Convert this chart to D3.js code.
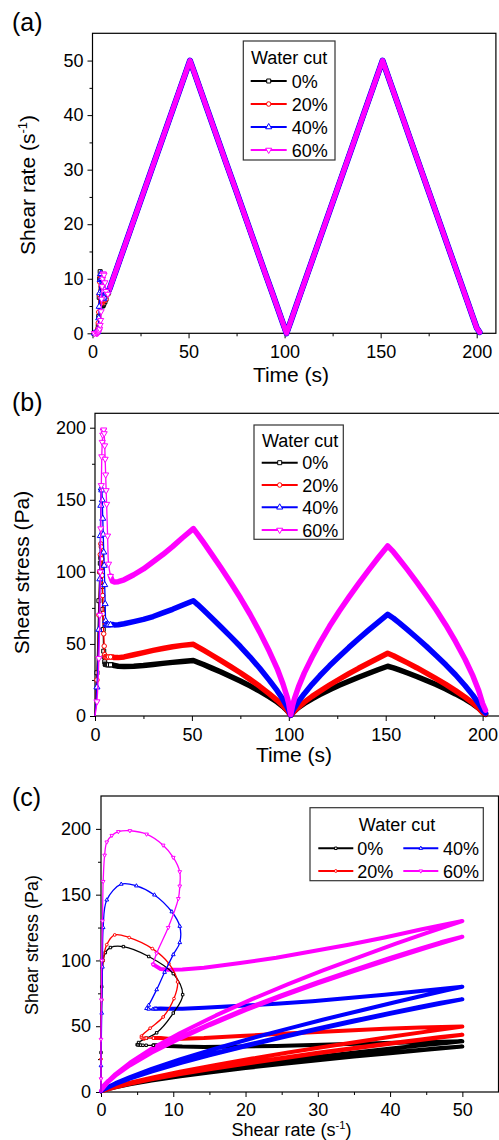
<!DOCTYPE html>
<html>
<head>
<meta charset="utf-8">
<script src="https://cdn.jsdelivr.net/npm/d3@7"></script>
<style>
	html, body { margin: 0; padding: 0; background: #fff; }
	svg { display: block; font-family: "Liberation Sans", Arial, sans-serif; }
</style>
</head>
<body>
<div id="chart"></div>
<script>
// water cut series
const seriesNames = ["0%", "20%", "40%", "60%"];
const seriesColors = ["#000000", "#ff0000", "#0000ff", "#ff00ff"];

// start-up part (s) on a shared time grid
const startTime = [0, 1, 2, 2.5, 2.75, 3, 3.25, 3.5, 3.75, 4, 4.25, 4.5, 4.75, 5, 5.25, 5.5, 5.75, 6, 6.5, 7, 8];
const startRate0 = [0, 0, 0.1, 0.3, 0.6, 1.3, 3.1, 6.6, 10.0, 11.3, 10.0, 7.7, 6.3, 5.2, 5.0, 5.1, 5.3, 5.5, 5.8, 6.25, 7.25];
const startRate20 = [0, 0, 0.1, 0.3, 0.8, 1.9, 3.9, 7.1, 9.4, 10.6, 10.1, 8.6, 6.8, 5.6, 5.6, 5.8, 6.0, 6.0, 6.1, 6.25, 7.25];
const startRate40 = [0, 0, 0.1, 0.2, 0.3, 0.8, 2.8, 4.9, 7.4, 9.8, 10.9, 10.9, 10.0, 8.8, 7.7, 6.6, 6.3, 6.6, 7.2, 7.4, 7.6];
const startRate60 = [0, 0, 0, 0.05, 0.1, 0.2, 0.3, 0.5, 0.8, 1.5, 2.4, 4.0, 6.3, 8.6, 10.0, 10.9, 10.9, 10.7, 9.3, 7.7, 7.2];
const startStress0 = [0, 30, 80, 100, 106, 109.8, 110.5, 103, 90, 74, 60, 45, 41, 37.6, 36, 35.8, 35.7, 35.6, 35.5, 35.5, 35.5];
const startStress20 = [0, 25, 70, 100, 112, 119.4, 117.4, 109, 97.6, 83.6, 71, 57, 48.5, 42.5, 41.2, 40.7, 40.6, 40.6, 40.8, 41, 41];
const startStress40 = [0, 20, 60, 95, 125, 146, 158, 156.7, 149.8, 137, 126, 113.6, 104.4, 91, 77.8, 66, 63.5, 63, 63, 63.2, 63.3];
const startStress60 = [0, 10, 40, 70, 100, 130, 160, 180, 190, 195, 197.9, 198.6, 196, 187.6, 178.3, 167.4, 156.5, 147, 125, 105.5, 97];

// triangular shear-rate cycles (s, 1/s)
const cycleTime = [9, 10, 12, 15, 20, 25, 30, 35, 40, 45, 50.75,
	53, 56, 60, 65, 70, 75, 80, 85, 90, 94, 97, 99, 100, 101,
	102, 103, 105, 108, 112, 116, 121, 126, 131, 136, 141, 146, 151,
	154, 157, 161, 166, 171, 176, 181, 186, 191, 195, 198, 200, 201.5];
const cycleRate = [8.25, 9.25, 11.25, 14.25, 19.25, 24.25, 29.25, 34.25, 39.25, 44.25, 50,
	47.8, 44.8, 40.8, 35.8, 30.8, 25.9, 20.9, 15.9, 10.9, 7.0, 4.0, 2.0, 1.0, 0,
	1, 2, 4, 7, 11, 15, 20, 25, 30, 35, 40, 45, 50,
	47, 44, 40, 35, 30, 25, 20, 15, 10, 6, 3, 1, 0.2];
const cycleStress0 = [35.5, 35, 34.5, 34.3, 34.5, 35, 35.8, 36.5, 37.2, 37.8, 38.5,
	37.3, 35.7, 33.4, 30.5, 27.4, 24.3, 20.9, 17.2, 13.2, 9.7, 6.6, 4.0, 2.5, 0.5,
	2.2, 3.6, 5.9, 8.7, 11.9, 14.8, 18.2, 21.3, 24.1, 26.9, 29.5, 32.1, 34.5,
	33.4, 32.0, 30.0, 27.4, 24.6, 21.8, 18.7, 15.3, 11.7, 8.3, 5.3, 2.7, 1.2];
const cycleStress20 = [41, 40.5, 40.5, 41, 42.5, 44, 45.5, 46.8, 48, 49, 49.7,
	48.0, 45.7, 42.5, 38.4, 34.2, 30.0, 25.4, 20.6, 15.4, 10.9, 7.1, 4.2, 2.4, 0.5,
	2.1, 3.6, 6.2, 9.6, 13.6, 17.2, 21.5, 25.5, 29.4, 33.1, 36.6, 40.1, 43.5,
	41.8, 39.7, 37.0, 33.5, 29.8, 25.9, 21.9, 17.6, 13.0, 8.9, 5.4, 2.5, 1.5];
const cycleStress40 = [63.5, 63.2, 63.3, 64, 65.5, 67, 69, 71.5, 74, 76.8, 80,
	77.3, 73.5, 68.4, 61.8, 55.1, 48.2, 40.9, 33.1, 24.7, 17.6, 11.4, 6.7, 3.9, 0.5,
	3.5, 5.9, 10.1, 15.5, 22.0, 27.9, 34.8, 41.3, 47.6, 53.6, 59.4, 65.0, 70.5,
	67.8, 64.6, 60.1, 54.3, 48.3, 42.0, 35.5, 28.6, 21.0, 14.3, 8.6, 4.0, 2.0];
const cycleStress60 = [93.5, 93, 93.2, 94.5, 98, 102, 107, 112, 117.5, 123.5, 130,
	126.0, 120.4, 112.7, 102.8, 92.6, 82.0, 70.6, 58.2, 44.7, 32.9, 22.2, 13.7, 8.4, 1,
	7.6, 12.4, 20.2, 29.9, 40.8, 50.7, 62.2, 72.7, 82.5, 91.9, 100.9, 109.6, 118,
	113.8, 108.8, 101.9, 92.9, 83.5, 73.7, 63.2, 51.7, 39.2, 27.8, 17.5, 8.6, 4];

// ticks
const timeTicks = [0, 50, 100, 150, 200];
const timeMinor = [25, 75, 125, 175];
const rateTicksA = [0, 10, 20, 30, 40, 50];
const rateMinorA = [5, 15, 25, 35, 45];
const stressTicks = [0, 50, 100, 150, 200];
const stressMinor = [25, 75, 125, 175];
const rateTicksC = [0, 10, 20, 30, 40, 50];
const rateMinorC = [5, 15, 25, 35, 45];

const startRates = [startRate0, startRate20, startRate40, startRate60];
const startStresses = [startStress0, startStress20, startStress40, startStress60];
const cycleStresses = [cycleStress0, cycleStress20, cycleStress40, cycleStress60];
const symbols = [d3.symbolSquare, d3.symbolCircle, d3.symbolTriangle, d3.symbolTriangle];
const symbolRot = [0, 0, 0, 180];

const series = seriesNames.map((name, i) => {
	const start = startTime.map((t, j) => ({ t, rate: startRates[i][j], stress: startStresses[i][j] }));
	const cycle = [start[start.length - 1]].concat(
		cycleTime.map((t, j) => ({ t, rate: cycleRate[j], stress: cycleStresses[i][j] }))
	);
	return { name, i, color: seriesColors[i], start, cycle };
});

const FONT = "'Liberation Sans', Arial, sans-serif";

const svg = d3
	.select("#chart")
	.append("svg")
	.attr("width", 499)
	.attr("height", 1140);

function drawAxes(x, y, o) {
	const y0 = y.range()[0];
	const x0 = x.range()[0];

	const gx = svg
		.append("g")
		.attr("transform", `translate(0,${y0})`)
		.call(d3.axisBottom(x).tickValues(o.xMajor).tickSize(5).tickSizeOuter(0).tickPadding(o.xPad));
	svg
		.append("g")
		.attr("transform", `translate(0,${y0})`)
		.call(d3.axisBottom(x).tickValues(o.xMinor).tickSize(3).tickSizeOuter(0).tickFormat(""));
	const gy = svg
		.append("g")
		.attr("transform", `translate(${x0},0)`)
		.call(d3.axisLeft(y).tickValues(o.yMajor).tickSize(5).tickSizeOuter(0).tickPadding(o.yPad));
	svg
		.append("g")
		.attr("transform", `translate(${x0},0)`)
		.call(d3.axisLeft(y).tickValues(o.yMinor).tickSize(3).tickSizeOuter(0).tickFormat(""));

	svg.selectAll(".domain").remove();
	[gx, gy].forEach(g => g.attr("font-size", o.font).attr("font-family", FONT));
	svg.selectAll(".tick line").attr("stroke", "#000");
	svg.selectAll(".tick text").attr("fill", "#000");

	// frame
	svg
		.append("rect")
		.attr("x", x0)
		.attr("y", y.range()[1])
		.attr("width", x.range()[1] - x0)
		.attr("height", y0 - y.range()[1])
		.attr("fill", "none")
		.attr("stroke", "#000")
		.attr("stroke-width", 1.2);
}

function drawData(x, y, xKey, yKey, o) {
	const g = svg.append("g");
	const thickLine = d3.line().x(d => x(d[xKey])).y(d => y(d[yKey]));
	const thinLine = d3
		.line()
		.x(d => x(d[xKey]))
		.y(d => y(d[yKey]))
		.curve(d3.curveCatmullRom.alpha(0.5));

	series.forEach(s => {
		g.append("path")
			.datum(s.cycle)
			.attr("d", thickLine)
			.attr("fill", "none")
			.attr("stroke", s.color)
			.attr("stroke-width", o.thick[s.i])
			.attr("stroke-linejoin", "round")
			.attr("stroke-linecap", "round");
	});

	series.forEach(s => {
		g.append("path")
			.datum(s.start)
			.attr("d", thinLine)
			.attr("fill", "none")
			.attr("stroke", s.color)
			.attr("stroke-width", 1.3);
		g.selectAll(null)
			.data(s.start.slice(1))
			.enter()
			.append("path")
			.attr("d", d3.symbol().type(symbols[s.i]).size(o.markSize))
			.attr("transform", d => `translate(${x(d[xKey])},${y(d[yKey])}) rotate(${symbolRot[s.i]})`)
			.attr("fill", "#fff")
			.attr("stroke", s.color)
			.attr("stroke-width", 1);
	});
}

function legendItem(s, x1, x2, y, textX, markSize) {
	svg.append("line")
		.attr("x1", x1).attr("x2", x2).attr("y1", y).attr("y2", y)
		.attr("stroke", s.color).attr("stroke-width", 2);
	svg.append("path")
		.attr("d", d3.symbol().type(symbols[s.i]).size(markSize))
		.attr("transform", `translate(${(x1 + x2) / 2},${y}) rotate(${symbolRot[s.i]})`)
		.attr("fill", "#fff")
		.attr("stroke", s.color)
		.attr("stroke-width", 1);
	svg.append("text")
		.attr("x", textX)
		.attr("y", y + 6.5)
		.attr("font-size", 18)
		.text(s.name);
}

function legendBox(x, y, w, h, tx, ty, anchor) {
	svg.append("rect")
		.attr("x", x).attr("y", y).attr("width", w).attr("height", h)
		.attr("fill", "#fff").attr("stroke", "#333").attr("stroke-width", 1.2);
	svg.append("text")
		.attr("x", tx).attr("y", ty)
		.attr("text-anchor", anchor)
		.attr("font-size", 18)
		.text("Water cut");
}

function yTitle(x, y, size, parts) {
	const t = svg.append("text")
		.attr("transform", `translate(${x},${y}) rotate(-90)`)
		.attr("text-anchor", "middle")
		.attr("font-size", size);
	parts(t);
}

function rateUnit(t, size) {
	t.append("tspan").text("Shear rate (s");
	t.append("tspan").attr("font-size", size * 0.62).attr("dy", -size * 0.4).text("-1");
	t.append("tspan").attr("dy", size * 0.4).text(")");
}

// ---------- (a) shear rate vs time ----------
const xA = d3.scaleLinear().domain([0, 210]).range([92.5, 495.9]);
const yA = d3.scaleLinear().domain([0, 55]).range([333.3, 33.3]);

drawAxes(xA, yA, { xMajor: timeTicks, xMinor: timeMinor, yMajor: rateTicksA, yMinor: rateMinorA, xPad: 7, yPad: 4, font: 18 });
drawData(xA, yA, "t", "rate", { thick: [5, 5, 6, 5], markSize: 16 });

legendBox(243.3, 41, 91.7, 119, 251, 63.5, "start");
series.forEach((s, k) => legendItem(s, 250.7, 286.7, [81, 104, 127, 150][k], 291.7, 16));

svg.append("text").attr("x", 12).attr("y", 31).attr("font-size", 25).text("(a)");
svg.append("text").attr("x", 291).attr("y", 382).attr("text-anchor", "middle").attr("font-size", 21).text("Time (s)");
yTitle(35, 185, 21, t => rateUnit(t, 21));

// ---------- (b) shear stress vs time ----------
const xB = d3.scaleLinear().domain([0, 210]).range([95, 502]);
const yB = d3.scaleLinear().domain([0, 210]).range([716, 413.3]);

drawAxes(xB, yB, { xMajor: timeTicks, xMinor: timeMinor, yMajor: stressTicks, yMinor: stressMinor, xPad: 7, yPad: 4, font: 18 });
drawData(xB, yB, "t", "stress", { thick: [5.5, 5.5, 5.5, 5.5], markSize: 16 });

legendBox(254, 425, 89.3, 114.3, 262, 446.5, "start");
series.forEach((s, k) => legendItem(s, 261.7, 297.7, [462.7, 485, 507.3, 530][k], 302.3, 16));

svg.append("text").attr("x", 12).attr("y", 411).attr("font-size", 25).text("(b)");
svg.append("text").attr("x", 294).attr("y", 762).attr("text-anchor", "middle").attr("font-size", 21).text("Time (s)");
yTitle(29, 572.5, 21, t => t.text("Shear stress (Pa)"));

// ---------- (c) shear stress vs shear rate ----------
const xC = d3.scaleLinear().domain([0, 55]).range([101, 498.5]);
const yC = d3.scaleLinear().domain([0, 225]).range([1092, 796]);

drawAxes(xC, yC, { xMajor: rateTicksC, xMinor: rateMinorC, yMajor: stressTicks, yMinor: stressMinor, xPad: 6, yPad: 5, font: 18 });
drawData(xC, yC, "rate", "stress", { thick: [4, 4, 4, 4], markSize: 6 });

legendBox(310, 807.7, 173.3, 73, 397, 831, "middle");
legendItem(series[0], 318.3, 353.3, 848.3, 357.3, 6);
legendItem(series[1], 318.3, 353.3, 871, 357.3, 6);
legendItem(series[2], 403.3, 438.3, 848.3, 443, 6);
legendItem(series[3], 403.3, 438.3, 871, 443, 6);

svg.append("text").attr("x", 12).attr("y", 806).attr("font-size", 25).text("(c)");
const xtC = svg.append("text").attr("x", 291.5).attr("y", 1136).attr("text-anchor", "middle").attr("font-size", 18);
rateUnit(xtC, 18);
yTitle(38, 945, 18, t => t.text("Shear stress (Pa)"));
</script>
</body>
</html>
